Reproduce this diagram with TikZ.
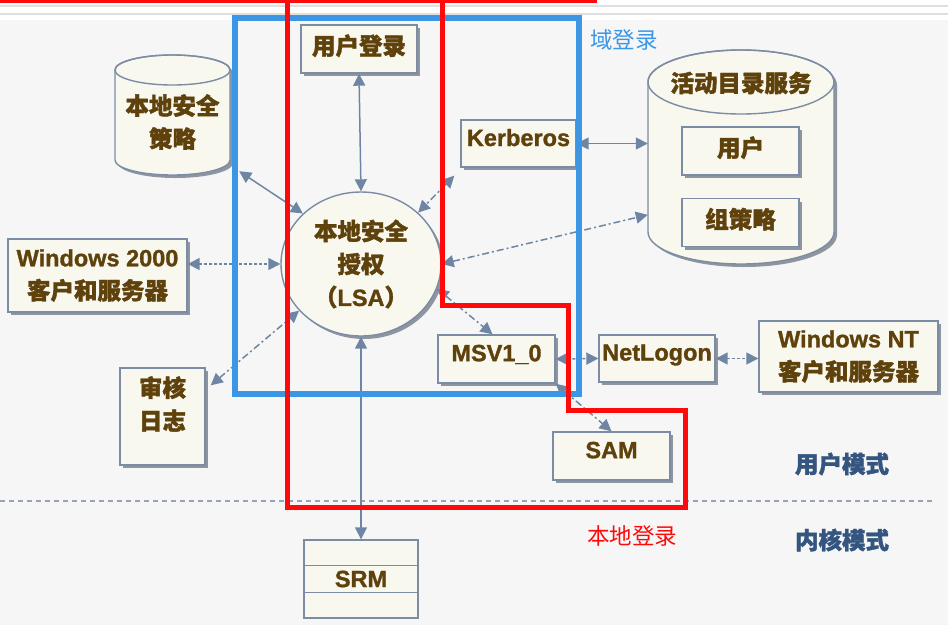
\documentclass[tikz,border=0pt]{standalone}
\usepackage{fontspec}
\setmainfont{Liberation Sans}[BoldFeatures={FakeBold=1.2}]
\newfontfamily\cjk{Noto Sans CJK SC}[BoldFeatures={FakeBold=1.6}]
\usetikzlibrary{arrows.meta,shadows,shapes.geometric,calc}
\definecolor{bg}{HTML}{F6F6F6}
\definecolor{boxfill}{HTML}{F8F8EF}
\definecolor{boxline}{HTML}{7C8CA4}
\definecolor{txt}{HTML}{5F410C}
\definecolor{arr}{HTML}{6E86A3}
\definecolor{lblue}{HTML}{3C96E6}
\definecolor{lred}{HTML}{FF0A0A}
\definecolor{modec}{HTML}{34557F}
\definecolor{shad}{HTML}{8E959E}
\newcommand\mycyl[5]{%
  \begin{scope}[shift={(3,3)}]
  \fill[shad] (#1-#4,#2) -- (#1-#4,#3) arc[start angle=180,end angle=360,x radius=#4pt,y radius=#5pt] -- (#1+#4,#2) arc[start angle=0,end angle=180,x radius=#4pt,y radius=#5pt] -- cycle;
  \end{scope}
  \filldraw[fill=boxfill, draw=boxline, line width=1.4pt] (#1-#4,#2) -- (#1-#4,#3) arc[start angle=180,end angle=360,x radius=#4pt,y radius=#5pt] -- (#1+#4,#2) arc[start angle=0,end angle=180,x radius=#4pt,y radius=#5pt] -- cycle;
  \draw[boxline, line width=1.4pt] (#1,#2) ellipse[x radius=#4pt, y radius=#5pt];
}
\tikzset{
  box/.style={draw=boxline, line width=1.4pt, fill=boxfill, inner sep=0pt,
    drop shadow={shadow xshift=3pt, shadow yshift=-3pt, fill=shad, opacity=1},
    text=txt, font=\fontsize{23.5}{33}\selectfont\bfseries, align=center},
  lbox/.style={box, text depth=12pt},
  cbox/.style={box, text depth=9pt, font=\fontsize{23.5}{33}\selectfont\bfseries\cjk},
  boxtext/.style={inner sep=0pt, text=txt, font=\fontsize{23.5}{33}\selectfont\bfseries\cjk, align=center},
  link/.style={draw=arr, line width=1.5pt, {Triangle[width=12pt,length=12pt]}-{Triangle[width=12pt,length=12pt]}},
  dotline/.style={dash pattern=on 3pt off 2pt},
  dashdot/.style={dash pattern=on 7pt off 3pt on 2pt off 3pt},
  modelabel/.style={inner sep=0pt, text=modec, font=\fontsize{23.5}{28}\selectfont\bfseries\cjk},
  hand/.style={inner sep=0pt, font=\fontsize{22.5}{26}\selectfont\cjk}
}
\begin{document}
\begin{tikzpicture}[x=1pt,y=-1pt]
\useasboundingbox (0,0) rectangle (948,625);
\fill[white] (0,0) rectangle (948,625);
\fill[bg] (0,20) rectangle (948,625);
\draw[gray!25, line width=1.5pt] (0,6) -- (948,6);
\draw[gray!25, line width=1.5pt] (0,14) -- (948,14);

% cylinders
\mycyl{172.5}{70}{160}{57.5}{15}
\mycyl{741}{82}{232}{93}{32}
\node[inner sep=0pt, minimum width=115pt, minimum height=120pt] (polb) at (172.5,115) {};
\node[inner sep=0pt, minimum width=186pt, minimum height=214pt] (adb) at (741,157) {};
\node[boxtext] (polt) at (172.5,122) {本地安全\\策略};
\node[boxtext] (adt) at (741,83) {活动目录服务};

% boxes
\node[cbox, minimum width=116pt, minimum height=48pt] (ul) at (359,49) {用户登录};
\node[lbox, minimum width=115pt, minimum height=47pt] (kb) at (518.5,143.5) {Kerberos};
\node[cbox, minimum width=117pt, minimum height=48pt] (u) at (740.5,151) {用户};
\node[cbox, minimum width=117pt, minimum height=48pt] (gp) at (740.5,222.5) {组策略};
\node[box, minimum width=179pt, minimum height=73pt] (w2k) at (97.5,275.5) {Windows 2000\\\cjk 客户和服务器};
\node[box, ellipse, minimum width=160pt, minimum height=144pt] (lsa) at (361,264) {\cjk 本地安全\\\cjk 授权\\{\cjk （}LSA{\cjk ）}};
\node[box, minimum width=85pt, minimum height=97pt] (aud) at (162.5,416.5) {};
\node[boxtext] (audt) at (162.5,404) {审核\\日志};
\node[lbox, minimum width=117pt, minimum height=48pt] (msv) at (496.5,359) {MSV1\_0};
\node[lbox, minimum width=116pt, minimum height=47pt] (nl) at (657,358.5) {NetLogon};
\node[box, minimum width=179pt, minimum height=71pt] (wnt) at (848.5,356.5) {Windows NT\\\cjk 客户和服务器};
\node[lbox, minimum width=117pt, minimum height=48pt] (sam) at (611.5,456) {SAM};
\node[draw=boxline, line width=1.4pt, fill=boxfill, inner sep=0pt, minimum width=114pt, minimum height=78pt,
  text=txt, font=\fontsize{23.5}{33}\selectfont\bfseries] (srm) at (361,579) {SRM};
\draw[boxline, line width=1.4pt] ($(srm.north west)+(0,26)$) -- ($(srm.north east)+(0,26)$);
\draw[boxline, line width=1.4pt] ($(srm.north west)+(0,53)$) -- ($(srm.north east)+(0,53)$);

% mode labels and divider
\coordinate (dl) at (0,501);
\coordinate (dr) at (935,501);
\draw[boxline!80, line width=1.3pt, dash pattern=on 5pt off 4pt] (dl) -- (dr);
\node[modelabel] (um) at (842,464) {用户模式};
\node[modelabel] (km) at (842,540) {内核模式};

% connectors
\draw[link] (ul.south) -- (lsa.north);
\draw[link] ($(polb.south east)+(9,-4)$) -- (lsa.139);
\draw[link,dashdot] ($(kb.south west)+(-6,8)$) -- (lsa.42);
\draw[link] (kb.east) -- (kb.east -| adb.west);
\draw[link,dashdot] (lsa.east) -- ($(adb.north west)+(0,165)$);
\draw[link,dotline] (w2k.east |- lsa.west) -- (lsa.west);
\draw[link,dashdot] ($(aud.north east)+(5,18)$) -- (lsa.217);
\draw[link,dashdot] (lsa.-18) -- ($(msv.north)+(-4,0)$);
\draw[link,dotline] (msv.east) -- (nl.west);
\draw[link,dotline] (nl.east) -- (nl.east -| wnt.west);
\draw[link,dashdot] (msv.south east) -- (sam.north);
\draw[link] (lsa.south) -- (srm.north);

% annotation outlines
\draw[lblue, line width=6pt] (235,17.5) rectangle (578.5,394);
\draw[lred, line width=5pt, line join=miter] (287,-3) -- (287,507) -- (685,507) -- (685,410) -- (568,410) -- (568,305) -- (442,305) -- (442,-3);
\draw[lred, line width=5pt] (0,0) -- (597,0);
\node[hand, text=lblue] (dom) at (624,40) {域登录};
\node[hand, text=lred] (loc) at (632,536) {本地登录};
\end{tikzpicture}
\end{document}
